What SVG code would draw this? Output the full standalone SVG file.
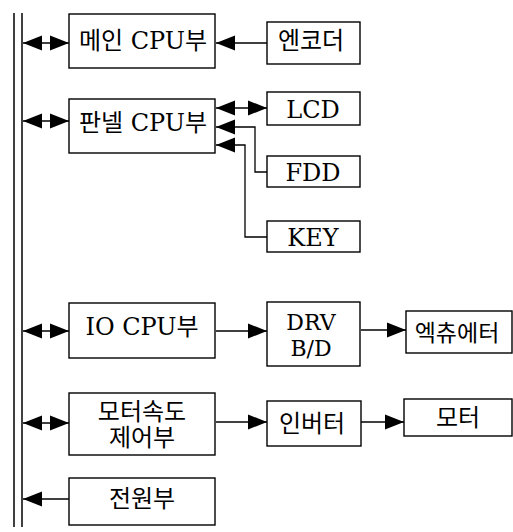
<svg xmlns="http://www.w3.org/2000/svg" width="513" height="532" viewBox="0 0 513 532">
<style>
.box{fill:#fff;stroke:#000;stroke-width:1.4}
.t{font-family:"DejaVu Serif","Noto Sans CJK KR",serif;font-size:24px;text-anchor:middle;fill:#000}
.ln{fill:none;stroke:#000;stroke-width:1.3}
.bus{fill:none;stroke:#000;stroke-width:1.5}
</style>
<defs>
<marker id="ah" markerUnits="userSpaceOnUse" markerWidth="20" markerHeight="16" refX="19" refY="8" orient="auto-start-reverse">
<path d="M0,0.5 L19,8 L0,15.5 z" fill="#000"/>
</marker>
</defs>
<rect width="513" height="532" fill="#fff"/>
<g id="bus">
<line class="bus" x1="14" y1="13" x2="14" y2="527"/>
<line class="bus" x1="22" y1="13" x2="22" y2="527"/>
</g>
<g id="connectors">
<line class="ln" x1="23" y1="43" x2="69" y2="43" marker-start="url(#ah)" marker-end="url(#ah)"/>
<line class="ln" x1="23" y1="121" x2="69" y2="121" marker-start="url(#ah)" marker-end="url(#ah)"/>
<line class="ln" x1="23" y1="331" x2="69" y2="331" marker-start="url(#ah)" marker-end="url(#ah)"/>
<line class="ln" x1="23" y1="423" x2="69" y2="423" marker-start="url(#ah)" marker-end="url(#ah)"/>
<line class="ln" x1="69" y1="499" x2="23" y2="499" marker-end="url(#ah)"/>
<line class="ln" x1="267" y1="43" x2="216" y2="43" marker-end="url(#ah)"/>
<line class="ln" x1="216" y1="108" x2="267" y2="108" marker-start="url(#ah)" marker-end="url(#ah)"/>
<polyline class="ln" points="267,172 255,172 255,127 216,127" marker-end="url(#ah)"/>
<polyline class="ln" points="267,237 245,237 245,145 216,145" marker-end="url(#ah)"/>
<line class="ln" x1="216" y1="331" x2="267" y2="331" marker-end="url(#ah)"/>
<line class="ln" x1="361" y1="330" x2="406" y2="330" marker-end="url(#ah)"/>
<line class="ln" x1="216" y1="422" x2="267" y2="422" marker-end="url(#ah)"/>
<line class="ln" x1="361" y1="422" x2="404" y2="422" marker-end="url(#ah)"/>
</g>
<g id="main-cpu"><rect class="box" x="69" y="14" width="146" height="54"/><text class="t" x="143" y="49">메인 CPU부</text></g>
<g id="panel-cpu"><rect class="box" x="69" y="99" width="146" height="54"/><text class="t" x="143" y="131">판넬 CPU부</text></g>
<g id="encoder"><rect class="box" x="267" y="22" width="93" height="42"/><text class="t" x="311" y="49">엔코더</text></g>
<g id="lcd"><rect class="box" x="267" y="92" width="93" height="33"/><text class="t" x="313" y="118">LCD</text></g>
<g id="fdd"><rect class="box" x="267" y="156" width="93" height="31"/><text class="t" x="313" y="181">FDD</text></g>
<g id="key"><rect class="box" x="267" y="221" width="93" height="31"/><text class="t" x="313" y="246">KEY</text></g>
<g id="io-cpu"><rect class="box" x="69" y="303" width="146" height="55"/><text class="t" x="142" y="335">IO CPU부</text></g>
<g id="drv"><rect class="box" x="267" y="302" width="93" height="64"/><text class="t" x="311" y="330" style="font-size:22px">DRV</text><text class="t" x="311" y="356" style="font-size:22px">B/D</text></g>
<g id="actuator"><rect class="box" x="406" y="311" width="106" height="42"/><text class="t" x="457" y="341" style="font-size:23px">엑츄에터</text></g>
<g id="motor-speed"><rect class="box" x="69" y="393" width="146" height="62"/><text class="t" x="142" y="420">모터속도</text><text class="t" x="142" y="446">제어부</text></g>
<g id="inverter"><rect class="box" x="267" y="401" width="94" height="45"/><text class="t" x="312" y="432">인버터</text></g>
<g id="motor"><rect class="box" x="404" y="399" width="108" height="37"/><text class="t" x="458" y="426">모터</text></g>
<g id="power"><rect class="box" x="69" y="478" width="146" height="47"/><text class="t" x="142" y="507">전원부</text></g>
</svg>
